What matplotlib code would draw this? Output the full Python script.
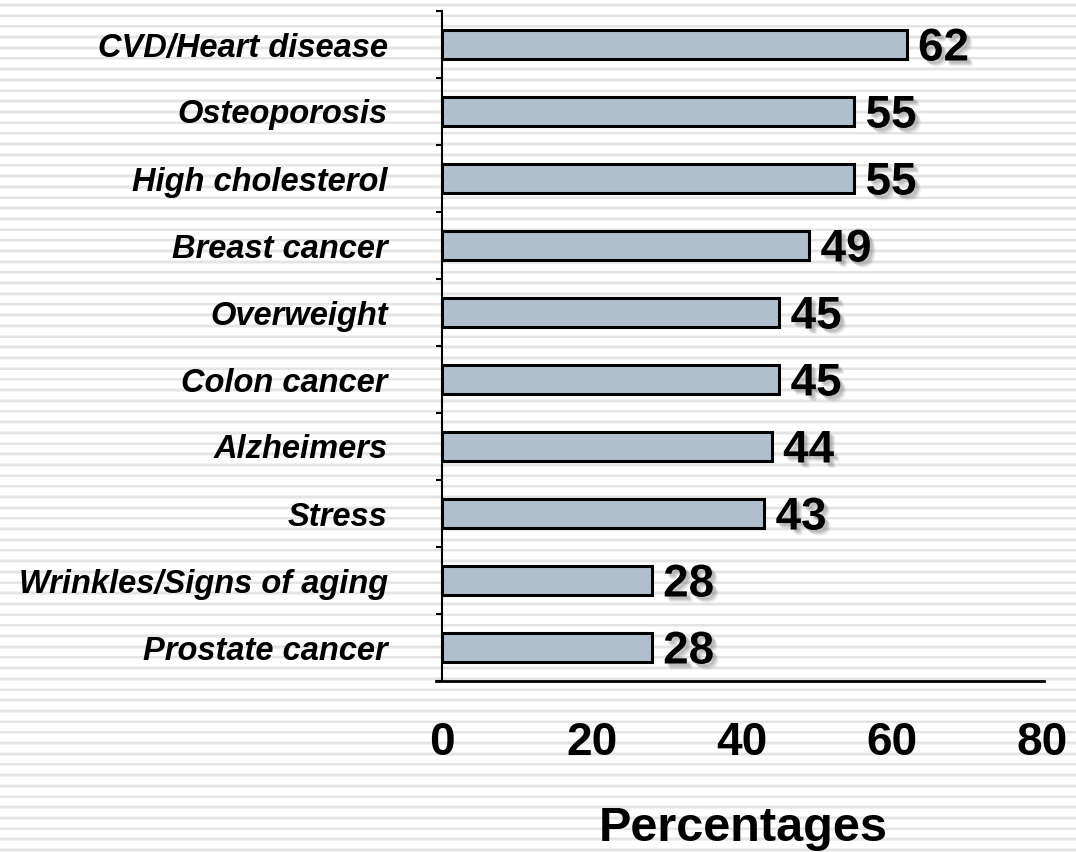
import matplotlib.pyplot as plt
import matplotlib.patheffects as pe
import numpy as np

plt.rcParams['font.family'] = ['Liberation Sans', 'DejaVu Sans']

categories = ['CVD/Heart disease', 'Osteoporosis', 'High cholesterol', 'Breast cancer',
              'Overweight', 'Colon cancer', 'Alzheimers', 'Stress',
              'Wrinkles/Signs of aging', 'Prostate cancer']
values = [62, 55, 55, 49, 45, 45, 44, 43, 28, 28]
xticks = [0, 20, 40, 60, 80]

W, H = 1076, 852
fig = plt.figure(figsize=(W / 100, H / 100), dpi=100)

# striped slide background
bg = fig.add_axes([0, 0, 1, 1], zorder=-5)
bg.set_xlim(0, W)
bg.set_ylim(H, 0)
bg.axis('off')
period = 10.696
for k in range(81):
    c = 5 + period * k
    bg.axhspan(c - 1.8, c + 1.8, color='#f2f2f2', lw=0)
    bg.axhspan(c - 1.0, c + 1.0, color='#e4e4e4', lw=0)

ax = fig.add_axes([442 / W, 1 - 681 / H, 602 / W, 670 / H])
ax.patch.set_alpha(0)

y = np.arange(len(categories))
ax.barh(y, values, height=0.42, color='#b1bfcc', edgecolor='black', linewidth=2.2, zorder=3)

# soft drop shadow under the value labels
shadow = [pe.SimplePatchShadow(offset=(4, -4), shadow_rgbFace='#666666', alpha=0.12),
          pe.SimplePatchShadow(offset=(3, -3), shadow_rgbFace='#666666', alpha=0.18),
          pe.SimplePatchShadow(offset=(2, -2), shadow_rgbFace='#666666', alpha=0.2),
          pe.Normal()]
for yi, v in zip(y, values):
    ax.text(v + 1.5, yi + 0.06, str(v), va='center', ha='left', fontsize=33,
            fontweight='bold', path_effects=shadow, zorder=4)

ax.set_xlim(0, 80.3)
ax.set_ylim(len(categories) - 0.5, -0.5)

ax.set_yticks(y)
ax.set_yticklabels(categories, fontsize=23.5, fontweight='bold', fontstyle='italic')
ax.set_yticks(np.arange(-0.5, len(categories)), minor=True)
ax.tick_params(axis='y', which='major', length=0, pad=39)
ax.tick_params(axis='y', which='minor', length=4.5, width=1.5, direction='out')

ax.set_xticks(xticks)
ax.set_xticklabels([str(t) for t in xticks], fontsize=33, fontweight='bold')
ax.tick_params(axis='x', length=0, pad=29)
ax.set_xlabel('Percentages', fontsize=35, fontweight='bold', labelpad=29)

for s in ['top', 'right']:
    ax.spines[s].set_visible(False)
ax.spines['left'].set_linewidth(1.5)
ax.spines['bottom'].set_linewidth(2)
ax.spines['bottom'].set_bounds(-0.8, 80.3)

fig.savefig('out.png', dpi=100)
